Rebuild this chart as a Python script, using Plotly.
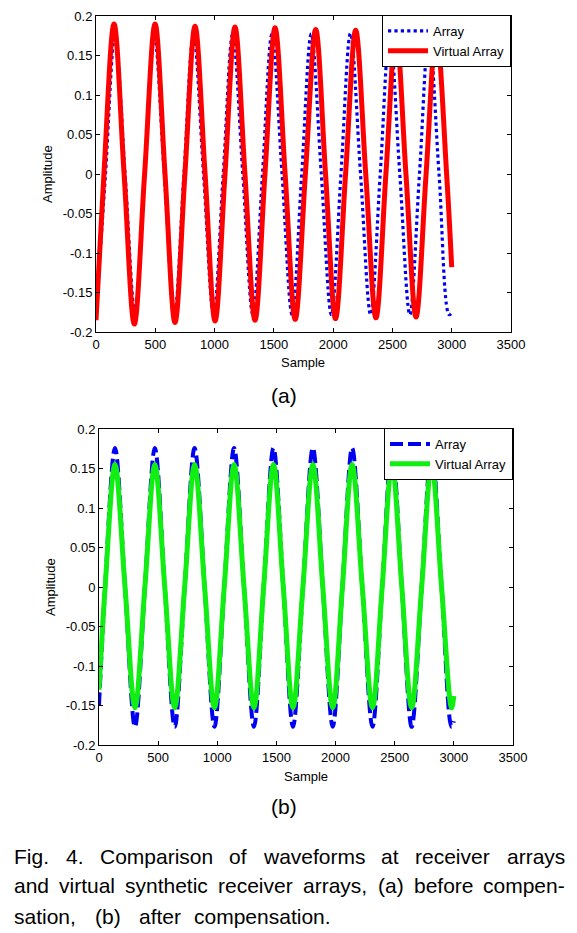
import plotly.graph_objects as go

W, H = 577, 933

# ---------------- data ----------------
# (a) before compensation
a_array_x = [0, 80, 160, 245, 330, 411, 491, 576, 661, 742, 822, 907, 992, 1073, 1153, 1238, 1323,
             1404, 1484, 1569, 1654, 1735, 1815, 1900, 1985, 2066, 2146, 2231, 2316, 2397, 2477,
             2562, 2647, 2728, 2808, 2893, 2978, 3000]
a_array_y = [-0.178, 0, 0.176, 0, -0.178, 0, 0.177, 0, -0.178, 0, 0.177, 0, -0.178, 0, 0.177, 0, -0.178,
             0, 0.177, 0, -0.178, 0, 0.177, 0, -0.178, 0, 0.178, 0, -0.178, 0, 0.178,
             0, -0.178, 0, 0.178, 0, -0.178, -0.176]
a_virtual_x = [0, 67, 152, 237, 323, 410, 498, 582, 666, 750, 835, 920, 1004, 1088, 1172, 1256, 1341,
               1425, 1510, 1595, 1680, 1766, 1853, 1936, 2020, 2105, 2190, 2275, 2361, 2445, 2530,
               2614, 2699, 2784, 2870, 2957, 3000]
a_virtual_y = [-0.185, 0, 0.19, 0, -0.19, 0, 0.19, 0, -0.188, 0, 0.187, 0, -0.186, 0, 0.186, 0, -0.185,
               0, 0.185, 0, -0.184, 0, 0.183, 0, -0.183, 0, 0.182, 0, -0.182, 0, 0.181,
               0, -0.181, 0, 0.181, 0, -0.118]

# (b) after compensation
b_x = [0, 52, 135, 220, 304, 388, 472, 556, 640, 724, 808, 893, 976, 1059, 1142, 1226, 1310,
       1392, 1475, 1558, 1640, 1724, 1808, 1892, 1976, 2058, 2140, 2226, 2312, 2394, 2477,
       2560, 2643, 2728, 2812, 2896, 2980, 3000]
b_array_y = [-0.15, 0, 0.176, 0, -0.177, 0, 0.176, 0, -0.177, 0, 0.176, 0, -0.177, 0, 0.176, 0, -0.177,
             0, 0.176, 0, -0.177, 0, 0.176, 0, -0.177, 0, 0.176, 0, -0.177, 0, 0.176,
             0, -0.177, 0, 0.176, 0, -0.177, -0.17]
b_virtual_y = [-0.13, 0, 0.155, 0, -0.153, 0, 0.155, 0, -0.153, 0, 0.155, 0, -0.153, 0, 0.155, 0, -0.153,
               0, 0.155, 0, -0.153, 0, 0.155, 0, -0.153, 0, 0.155, 0, -0.153, 0, 0.155,
               0, -0.153, 0, 0.155, 0, -0.153, -0.138]

series_names = ["Array", "Virtual Array"]
x_ticks = [0, 500, 1000, 1500, 2000, 2500, 3000, 3500]
y_ticks = [-0.2, -0.15, -0.1, -0.05, 0, 0.05, 0.1, 0.15, 0.2]
y_ticktext = ["-0.2", "-0.15", "-0.1", "-0.05", "0", "0.05", "0.1", "0.15", "0.2"]
x_label = "Sample"
y_label = "Amplitude"
panel_labels = ["(a)", "(b)"]
caption_lines = [
    "Fig. 4. Comparison of waveforms at receiver arrays",
    "and virtual synthetic receiver arrays, (a) before compen-",
    "sation, (b) after compensation.",
]

# ---------------- helpers for layout positions ----------------
def px(x):
    return x / W

def py(y):
    return 1 - y / H

FONT = "Liberation Sans, Arial, Helvetica, sans-serif"

# Arial / Liberation Sans advance widths (1/1000 em) used to justify the caption
ARIAL_W = {" ": 278, "(": 333, ")": 333, ",": 278, "-": 333, ".": 278, "4": 556, "C": 722, "F": 611,
           "a": 556, "b": 556, "c": 500, "d": 556, "e": 556, "f": 278, "g": 556, "h": 556, "i": 222,
           "l": 222, "m": 833, "n": 556, "o": 556, "p": 556, "r": 333, "s": 500, "t": 278, "u": 556,
           "v": 500, "w": 722, "y": 500}

def text_w(s, size):
    return sum(ARIAL_W.get(ch, 556) for ch in s) * size / 1000.0

fig = go.Figure()

fig.add_trace(go.Scatter(x=a_array_x, y=a_array_y, mode="lines", name=series_names[0],
                         line=dict(color="#0000F0", width=3.2, dash="dot", shape="spline"),
                         xaxis="x", yaxis="y", legend="legend"))
fig.add_trace(go.Scatter(x=a_virtual_x, y=a_virtual_y, mode="lines", name=series_names[1],
                         line=dict(color="#FF0000", width=5, shape="spline"),
                         xaxis="x", yaxis="y", legend="legend"))
fig.add_trace(go.Scatter(x=b_x, y=b_array_y, mode="lines", name=series_names[0],
                         line=dict(color="#0000F0", width=4, dash="13px,5px", shape="spline"),
                         xaxis="x2", yaxis="y2", legend="legend2"))
fig.add_trace(go.Scatter(x=b_x, y=b_virtual_y, mode="lines", name=series_names[1],
                         line=dict(color="#11EE11", width=5, shape="spline"),
                         xaxis="x2", yaxis="y2", legend="legend2"))

axis_common = dict(showline=True, linecolor="black", linewidth=1, mirror="ticks",
                   ticks="inside", ticklen=4, tickcolor="black", showgrid=False, zeroline=False,
                   automargin=False,
                   tickfont=dict(family=FONT, size=13, color="black"))

fig.update_layout(
    width=W, height=H,
    margin=dict(l=0, r=0, t=0, b=0, pad=0, autoexpand=False),
    paper_bgcolor="white", plot_bgcolor="white",
    xaxis=dict(domain=[px(96), px(511)], range=[0, 3500], tickvals=x_ticks, anchor="y", **axis_common),
    yaxis=dict(domain=[py(332), py(16)], range=[-0.2, 0.2], tickvals=y_ticks, ticktext=y_ticktext,
               anchor="x", **axis_common),
    xaxis2=dict(domain=[px(99), px(513)], range=[0, 3500], tickvals=x_ticks, anchor="y2", **axis_common),
    yaxis2=dict(domain=[py(745), py(429)], range=[-0.2, 0.2], tickvals=y_ticks, ticktext=y_ticktext,
                anchor="x2", **axis_common),
    legend=dict(x=px(511), y=py(15), xanchor="right", yanchor="top",
                bgcolor="white", bordercolor="black", borderwidth=1,
                font=dict(family=FONT, size=13, color="black"), tracegroupgap=0, itemwidth=40),
    legend2=dict(x=px(513), y=py(428), xanchor="right", yanchor="top",
                 bgcolor="white", bordercolor="black", borderwidth=1,
                 font=dict(family=FONT, size=13, color="black"), tracegroupgap=0, itemwidth=40),
    showlegend=True,
)

ann = []
def add_text(text, x, y, size, angle=0, xanchor="center"):
    ann.append(dict(text=text, x=px(x), y=py(y), xref="paper", yref="paper", showarrow=False,
                    xanchor=xanchor, yanchor="middle", textangle=angle,
                    font=dict(family=FONT, size=size, color="black")))

# axis titles
add_text(x_label, 303, 362, 13)
add_text(y_label, 47, 174, 13, angle=-90)
add_text(x_label, 306, 776, 13)
add_text(y_label, 50, 587, 13, angle=-90)
# panel labels
add_text(panel_labels[0], 284, 395, 21)
add_text(panel_labels[1], 284, 806, 21)

# caption: justified lines (words placed individually), last line with fixed word positions
CAP_SIZE = 21
LEFT, RIGHT = 12, 563
line_ys = [856, 885, 916]
last_line_lefts = [12, 93, 137, 192]
for li, (line, yy) in enumerate(zip(caption_lines, line_ys)):
    words = line.split(" ")
    if li < 2:
        widths = [text_w(w, CAP_SIZE) for w in words]
        gap = (RIGHT - LEFT - sum(widths)) / (len(words) - 1)
        xl = LEFT
        lefts = []
        for wdt in widths:
            lefts.append(xl)
            xl += wdt + gap
    else:
        lefts = last_line_lefts
    for wd, xl in zip(words, lefts):
        add_text(wd, xl, yy, CAP_SIZE, xanchor="left")

fig.update_layout(annotations=ann)
fig.write_html("out.html", config={"displayModeBar": False},
               post_script="document.body.style.margin='0';document.body.style.overflow='hidden';")
